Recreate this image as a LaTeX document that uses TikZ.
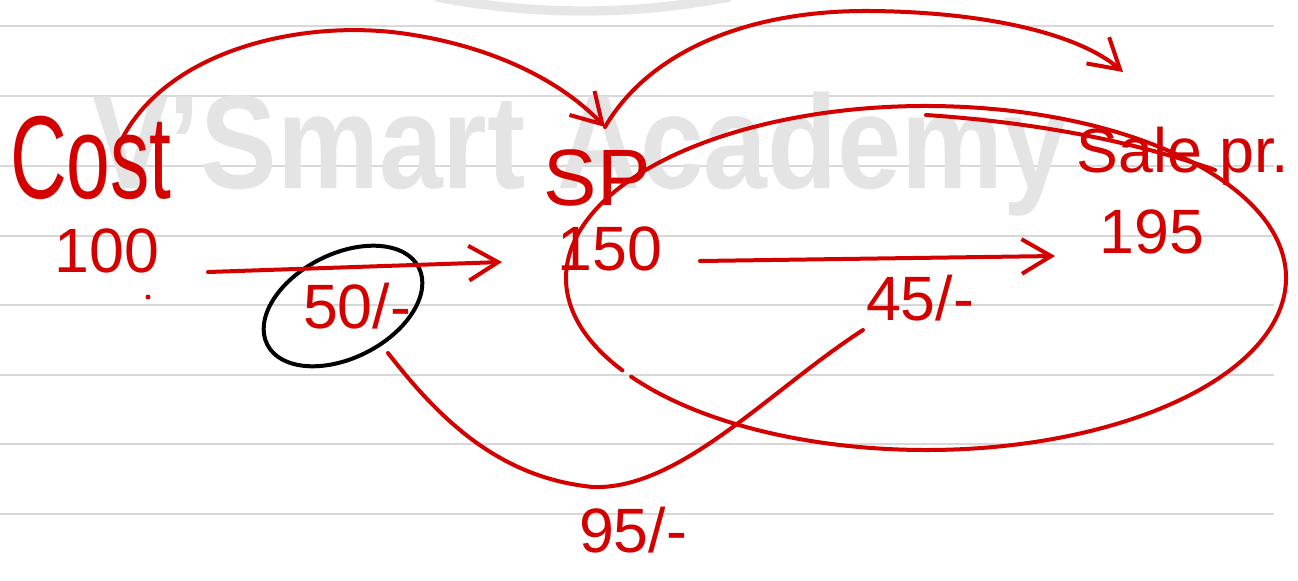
\documentclass[tikz,border=0pt]{standalone}
\usepackage{fontspec}
\setmainfont{Liberation Sans}
\usetikzlibrary{arrows.meta}
\definecolor{pen}{RGB}{212,0,0}
\definecolor{rulegray}{RGB}{216,216,216}
\definecolor{wm}{RGB}{228,228,228}
\definecolor{logogray}{RGB}{230,230,230}
\begin{document}
\begin{tikzpicture}[x=0.75pt,y=-0.75pt,
  redpen/.style={draw=pen, line width=3pt, line cap=round, line join=round},
  blackpen/.style={draw=black, line width=3pt},
  barb/.style={-{Straight Barb[length=22pt,width=26pt]}},
  hand/.style={text=pen, inner sep=0pt, anchor=base, font=\fontsize{47}{50}\selectfont},
  ruleline/.style={draw=rulegray, line width=1.5pt},
]
\useasboundingbox (0,0) rectangle (1298,581);
\fill[white] (0,0) rectangle (1298,581);
% ruled paper
\foreach \y in {26,96,166,236,305,375,444,514} \draw[ruleline] (0,\y) -- (1274,\y);
% watermark
\node[anchor=base west, inner sep=0pt, text=wm, font=\fontsize{100}{100}\selectfont\bfseries] (wmk) at (92,188) {\scalebox{0.86}[1]{V'Smart Academy}};
\begin{scope}
\clip (0,0) rectangle (1298,581);
\draw[logogray, line width=7pt] (583,-759) ++(79:770) arc[start angle=79, end angle=101, radius=770];
\end{scope}
% labels
\node[hand, font=\fontsize{59}{60}\selectfont] (cost) at (91,198) {\scalebox{1}[1.5]{Cost}};
\node[hand] (n100) at (107,272) {100};
\node[hand] (n150) at (610,270) {150};
\node[hand] (n195) at (1152,253) {195};
\node[hand] (n50) at (357,328) {50/-};
\node[hand] (n45) at (920,320) {45/-};
\node[hand] (n95) at (633,552) {95/-};
\node[hand, font=\fontsize{60}{60}\selectfont] (sp) at (597,205) {SP};
\node[hand] (sale) at (1183,172) {Sale pr.};
% connector ends
\coordinate (a1) at (208,272); \coordinate (b1) at (502,262);
\coordinate (a2) at (700,261); \coordinate (b2) at (1055,256);
\coordinate (c1) at (123,137); \coordinate (spj) at (605,127);
\coordinate (c2) at (1123,72);
\coordinate (d1) at (388,353); \coordinate (d2) at (863,330);
\coordinate (e1) at (926,115); \coordinate (e2) at (1215,170);
% black ellipse around 50/-
\draw[blackpen, rotate around={27:(343,306)}] (343,306) ellipse[x radius=85, y radius=52];
% big red ellipse around 150 and 195
\draw[redpen] (926,278) ++(147.5:360 and 172) arc[start angle=147.5, end angle=505, x radius=360, y radius=172];
\draw[redpen] (e1) .. controls (1030,122) and (1130,140) .. (e2);
% arrows
\draw[redpen, barb] (a1) -- (b1);
\draw[redpen, barb] (a2) -- (b2);
\draw[redpen, barb] (c1) .. controls (170,50) and (300,20) .. (400,33) .. controls (490,45) and (560,80) .. (spj);
\draw[redpen, barb] (spj) .. controls (650,50) and (750,10) .. (870,11) .. controls (990,12) and (1080,35) .. (c2);
\draw[redpen] (d1) .. controls (440,420) and (500,478) .. (593,487) .. controls (680,490) and (770,390) .. (d2);
\fill[pen] (148,297) circle[radius=2.5];
\end{tikzpicture}
\end{document}
